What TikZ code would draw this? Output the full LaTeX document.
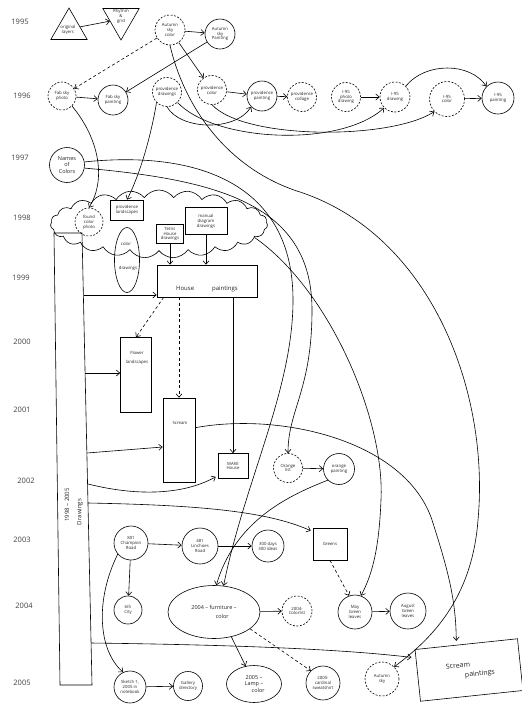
\documentclass[tikz,border=0pt]{standalone}
\usepackage{fontspec}
\setmainfont{Open Sans}
\usetikzlibrary{arrows.meta,shapes.geometric,shapes.symbols,calc}
\begin{document}
\begin{tikzpicture}[x=1pt,y=-1pt,
  lw/.style={line width=0.6pt},
  every node/.style={font=\fontsize{4.3}{4.9}\selectfont, align=center, inner sep=0pt, text=black!85},
  sol/.style={circle, draw, line width=0.6pt, minimum size=#1},
  dsh/.style={circle, draw, line width=0.6pt, dash pattern=on 2pt off 1.5pt, minimum size=#1},
  boxn/.style={draw, rectangle, line width=0.6pt},
  yr/.style={font=\fontsize{7.5}{8}\selectfont, text=black!75},
  arr/.style={line width=0.6pt, -{Straight Barb[length=3.5pt,width=6pt]}},
  darr/.style={arr, dash pattern=on 3pt off 2.5pt},
]
\fill[white] (0,0) rectangle (522,705);
\useasboundingbox (0,0) rectangle (522,705);

% years
\node[yr] (y95) at (20,22) {1995};
\node[yr] (y96) at (22,96) {1996};
\node[yr] (y97) at (20,158) {1997};
\node[yr] (y98) at (22,218) {1998};
\node[yr] (y99) at (21,278) {1999};
\node[yr] (y00) at (22,342) {2000};
\node[yr] (y01) at (22,410) {2001};
\node[yr] (y02) at (26,481) {2002};
\node[yr] (y03) at (22,540) {2003};
\node[yr] (y04) at (24,606) {2004};
\node[yr] (y05) at (22,683) {2005};

% 1995
\node[regular polygon, regular polygon sides=3, draw, lw, minimum size=42pt] (ol) at (69,29) {};
\node (olt) at (68,30) {original\\layers};
\node[regular polygon, regular polygon sides=3, shape border rotate=180, draw, lw, minimum size=42pt] (rg) at (121,19) {};
\node (rgt) at (121,16) {Rhythm\\\&\\grid};
\node[dsh=30pt] (ascol) at (170,30) {Autumn\\sky\\color};
\node[sol=30pt] (aspt) at (220,34) {Autumn\\sky\\Painting};

% 1996
\node[dsh=28pt] (fsph) at (62,96) {Fab sky\\photo};
\node[sol=30pt] (fspt) at (113,100) {Fab sky\\painting};
\node[dsh=29pt] (pdr) at (167,92) {providence\\drawings};
\node[dsh=29pt] (pco) at (212,90) {providence\\color};
\node[sol=30pt] (ppt) at (262,96) {providence\\painting};
\node[dsh=29pt] (pcl) at (302,97) {providence\\collage};
\node[dsh=29pt] (ipd) at (346,97) {I-95\\photo\\drawing};
\node[dsh=30pt] (idr) at (395,97) {I-95\\drawing};
\node[dsh=35pt] (ico) at (447,99) {I-95\\color};
\node[sol=32pt] (ipt) at (498,98) {I-95\\painting};

% 1997
\node[sol=35pt, font=\fontsize{5.5}{6.5}\selectfont] (noc) at (67,165) {Names\\of\\Colors};

% 1998
\node[cloud, draw, lw, cloud puffs=23, cloud puff arc=110, aspect=3.2, minimum width=217pt, minimum height=68pt] (cl) at (159,224) {};
\node[dsh=28pt] (fcp) at (89,222) {found\\color\\photo};
\node[boxn, minimum width=33pt, minimum height=20pt] (pls) at (127,210) {providence\\landscapes};
\node[boxn, minimum width=27pt, minimum height=19pt] (thd) at (170,234) {Tetris\\House\\drawings};
\node[boxn, minimum width=42pt, minimum height=27pt] (mdd) at (206,221) {manual\\diagram\\drawings};
\node[ellipse, draw, lw, minimum width=25pt, minimum height=65pt] (cdr) at (127,260) {};
\node (cdr1) at (126,244) {color};
\node (cdr2) at (128,268) {drawings};

% drawings bar
\coordinate (bA) at (54,233);
\coordinate (bB) at (82,233);
\coordinate (bC) at (92,685);
\coordinate (bD) at (60,685);
\draw[lw] (bA) -- (bB) -- (bC) -- (bD) -- cycle;
\node[rotate=90, font=\fontsize{6}{7}\selectfont] (bart) at (67,505) {1998 -- 2005};
\node[rotate=90, font=\fontsize{6}{7}\selectfont] (bard) at (80,512) {Drawings};
\coordinate (b1) at (84,295);
\coordinate (b2) at (85,373);
\coordinate (b3) at (87,453);
\coordinate (b4) at (88,484);
\coordinate (b5) at (88,503);
\coordinate (b6) at (91,643);

% 1999-2002
\node[boxn, minimum width=100pt, minimum height=32pt] (hp) at (207,281) {};
\node[font=\fontsize{6}{7}\selectfont] (hpt) at (207,289) {House\hspace{3em}paintings};
\node[boxn, minimum width=31pt, minimum height=75pt] (fl) at (136,375) {};
\node (flt) at (137,358) {Flower\\[4pt]landscapes};
\node[boxn, minimum width=32pt, minimum height=84pt] (sc) at (179,440) {};
\node (sct) at (180,423) {Scream};
\node[boxn, minimum width=30pt, minimum height=25pt] (mh) at (233,466) {MAKE\\House};
\node[dsh=29pt] (orl) at (288,468) {Orange\\list};
\node[sol=31pt] (orp) at (339,469) {orange\\painting};

% 2003
\node[sol=34pt] (chr) at (131,543) {801\\Champion\\Road};
\node[sol=36pt] (lir) at (200,546) {481\\Linchoes\\Road};
\node[sol=32pt] (tdi) at (268,546) {300 days\\300 ideas};
\node[boxn, minimum width=34pt, minimum height=32pt] (grn) at (330,544) {Greens};

% 2004
\node[sol=28pt] (city) at (128,610) {6th\\City};
\node[ellipse, draw, lw, minimum width=92pt, minimum height=53pt, font=\fontsize{5.5}{6.5}\selectfont] (ffc) at (214,612) {2004 -- furniture --\\[2pt]\hspace*{3em}color};
\node[dsh=30pt] (ccl) at (297,611) {2004-\\Colorlist};
\node[sol=34pt] (mgl) at (355,612) {May\\Green\\leaves};
\node[sol=36pt] (agl) at (408,611) {August\\Green\\leaves};

% 2005
\node[sol=32pt] (skt) at (130,687) {Sketch 1,\\2005 in\\notebook};
\node[sol=29pt] (gdr) at (188,686) {Gallery\\directory};
\node[ellipse, draw, lw, minimum width=55pt, minimum height=37pt, font=\fontsize{5.5}{6.5}\selectfont] (llc) at (254,684) {2005 --\\Lamp --\\\hspace*{1.5em}color};
\node[sol=34pt] (cdn) at (323,683) {2005-\\cardinal\\sweatshirt};
\node[dsh=34pt] (asky) at (382,679) {Autumn\\sky};
\node[boxn, rotate=6, minimum width=103pt, minimum height=52pt, font=\fontsize{7}{8}\selectfont] (scp) at (469,670) {Scream\hspace*{3em}\\[2pt]\hspace*{3em}paintings};

% connectors top
\draw[arr] (ol) -- (rg);
\draw[arr] (ascol) -- (aspt);
\draw[darr] (ascol) -- (fsph);
\draw[arr] (aspt) -- (fspt);
\draw[arr] (ascol) -- (pco);
\draw[arr] (fsph) -- (fspt);
\draw[arr] (pco) -- (ppt);
\draw[arr] (ppt) -- (pcl);
\draw[arr] (ipd) -- (idr);
\draw[arr] (ico) -- (ipt);
\draw[arr] (idr.north east) .. controls (425,62) and (470,62) .. (ipt.north west);
\draw[arr] (pdr.south) .. controls (180,130) and (235,132) .. (ppt.south west);
\draw[arr] (pdr.south east) .. controls (215,142) and (340,148) .. (idr.south west);
\draw[arr] (pco.south) .. controls (245,140) and (390,140) .. (ico.south west);
\draw[arr] (fsph.south east) .. controls (100,140) and (106,180) .. (fcp.north);
\draw[arr] (pdr.south west) .. controls (152,130) and (142,170) .. (pls.north);

% long curves
\draw[arr] (noc.10) .. controls (200,150) and (293,185) .. (293,300) .. controls (293,390) and (245,480) .. (ffc.70);
\draw[arr] (noc.-10) .. controls (220,180) and (312,205) .. (312,310) .. controls (312,390) and (288,410) .. (orl.north);
\draw[arr] (ascol.south) .. controls (185,110) and (230,170) .. (300,192) .. controls (430,235) and (490,390) .. (478,520) .. controls (472,600) and (430,640) .. (asky.north east);
\draw[arr] (cl.-8) .. controls (330,290) and (385,420) .. (381,500) .. controls (379,550) and (372,575) .. (mgl.70);
\draw[arr] ($(sc.north east)+(0,30)$) .. controls (280,412) and (405,440) .. (432,520) .. controls (448,570) and (456,600) .. ($(scp.north)+(-10,-3)$);
\draw[arr] (orp.south west) .. controls (290,495) and (235,520) .. (ffc.85);
\draw[arr] (orl) -- (orp);

% cloud -> house etc
\draw[arr] (thd.south) -- (thd.south |- hp.north);
\draw[arr] (mdd.south) -- (mdd.south |- hp.north);
\draw[darr] ($(hp.south west)+(7,0)$) -- (fl.north);
\draw[darr] (sc.north |- hp.south) -- (sc.north);
\draw[arr] (mh.north |- hp.south) -- (mh.north);

% bar arrows
\draw[arr] (b1) -- (b1 -| hp.west);
\draw[arr] (b2) -- (b2 -| fl.west);
\draw[arr] (b3) -- ($(sc.west)+(0,7)$);
\draw[arr] (b4) .. controls (140,497) and (185,494) .. ($(mh.south west)+(-2,-2)$);
\draw[arr] (b5) .. controls (190,505) and (265,510) .. ($(grn.north west)+(-2,3)$);
\draw[arr] (b6) .. controls (250,645) and (350,650) .. ($(scp.west)+(-6,-18)$);

% 2003-2005
\draw[arr] (chr) -- (lir);
\draw[arr] (lir) -- (tdi);
\draw[arr] (chr) -- (city);
\draw[darr] (grn.south) -- (mgl.110);
\draw[arr] (mgl) -- (agl);
\draw[arr] (ffc) -- (ccl);
\draw[arr] (ffc.-55) -- (llc.115);
\draw[darr] (ffc.-25) -- (cdn.135);
\draw[arr] (chr.220) .. controls (95,600) and (98,650) .. (skt.115);
\draw[arr] (skt) -- (gdr);
\end{tikzpicture}
\end{document}
